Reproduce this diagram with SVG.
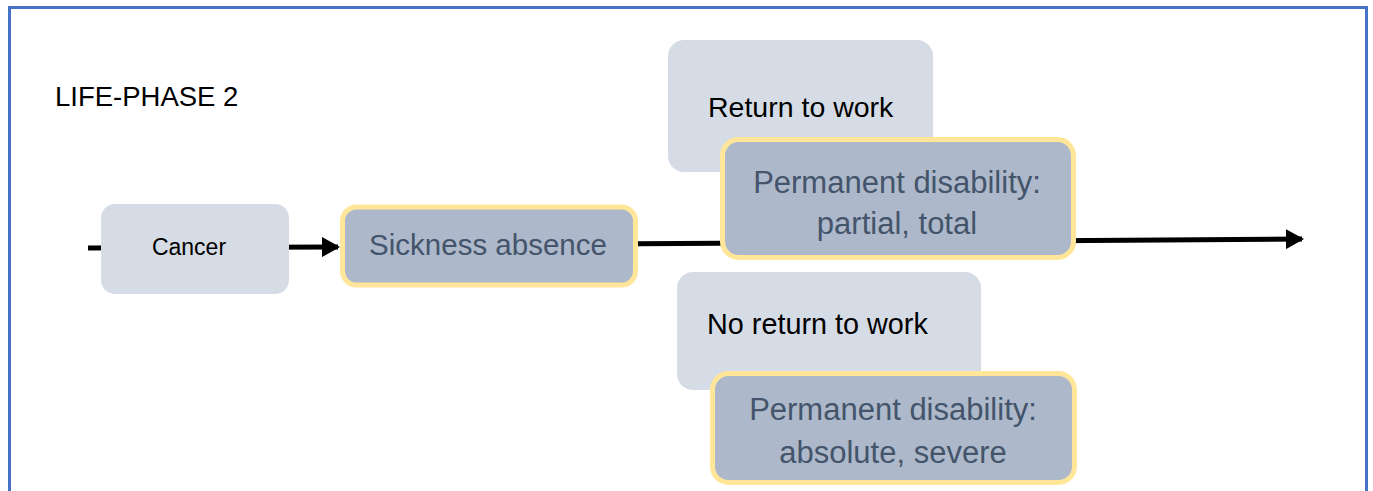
<svg xmlns="http://www.w3.org/2000/svg" width="1373" height="491" viewBox="0 0 1373 491">
<style>
.light{fill:#d6dce5;}
.dark{fill:#adb9ca;stroke:#ffe699;stroke-width:5;}
.t{font-family:"Liberation Sans",Arial,sans-serif;fill:#000;}
.td{font-family:"Liberation Sans",Arial,sans-serif;fill:#44546a;text-anchor:middle;}
.conn{stroke:#000;stroke-width:5;fill:none;}
</style>
<defs>
<marker id="ah" markerUnits="userSpaceOnUse" viewBox="0 0 18 20" markerWidth="18" markerHeight="20" refX="16" refY="10" orient="auto">
<path d="M0,0 L18,10 L0,20 z" fill="#000"/>
</marker>
</defs>
<rect x="9.5" y="7.5" width="1357" height="500" fill="#fff" stroke="#4472c4" stroke-width="3"/>
<text class="t" x="55" y="106" font-size="27.5">LIFE-PHASE 2</text>
<g id="connectors">
<line class="conn" x1="88" y1="248" x2="338" y2="247" marker-end="url(#ah)"/>
<line class="conn" x1="636" y1="243.8" x2="1302" y2="239" marker-end="url(#ah)"/>
</g>
<g id="cancer">
<rect class="light" x="101" y="204" width="188" height="90" rx="14"/>
<text class="t" x="189" y="255" font-size="23" text-anchor="middle">Cancer</text>
</g>
<g id="sickness">
<rect class="dark" x="342.5" y="207" width="293" height="78" rx="14"/>
<text class="td" x="488" y="255" font-size="29.5">Sickness absence</text>
</g>
<g id="return">
<rect class="light" x="668" y="40" width="265" height="132" rx="16"/>
<text class="t" x="708" y="117" font-size="28.5">Return to work</text>
</g>
<g id="perm1">
<rect class="dark" x="722.5" y="139.5" width="351" height="118" rx="16"/>
<text class="td" x="897" y="193" font-size="31">Permanent disability:</text>
<text class="td" x="897" y="234" font-size="31">partial, total</text>
</g>
<g id="noreturn">
<rect class="light" x="677" y="272" width="304" height="118" rx="16"/>
<text class="t" x="707" y="334" font-size="28.8">No return to work</text>
</g>
<g id="perm2">
<rect class="dark" x="712.5" y="373.5" width="362" height="109" rx="16"/>
<text class="td" x="893" y="420" font-size="31">Permanent disability:</text>
<text class="td" x="893" y="463" font-size="31">absolute, severe</text>
</g>
</svg>
